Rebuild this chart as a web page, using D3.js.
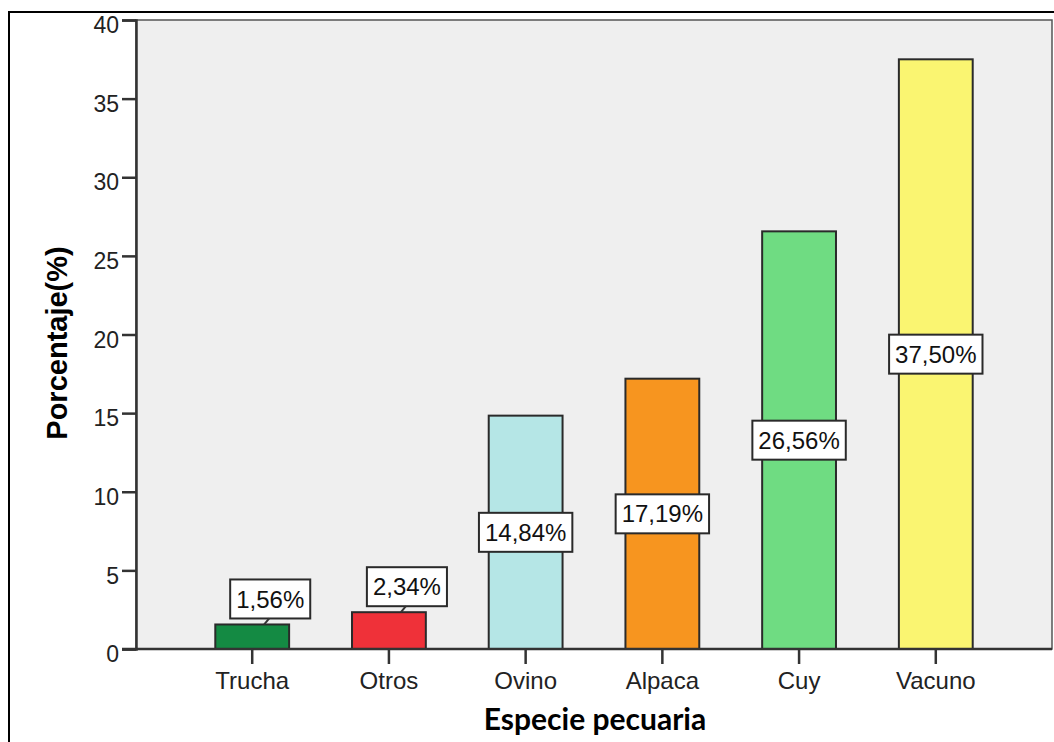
<!DOCTYPE html>
<html>
<head>
<meta charset="utf-8">
<script src="https://cdn.jsdelivr.net/npm/d3@7"></script>
<style>
  html, body { margin: 0; padding: 0; background: #ffffff; }
  svg { display: block; }
</style>
</head>
<body>
<svg id="chart" width="1054" height="742"></svg>
<script>
// Livestock species and their share (%)
const species = ["Trucha", "Otros", "Ovino", "Alpaca", "Cuy", "Vacuno"];
const percentages = [1.56, 2.34, 14.84, 17.19, 26.56, 37.50];
const valueLabels = ["1,56%", "2,34%", "14,84%", "17,19%", "26,56%", "37,50%"];
const barColors = ["#148a43", "#ef3139", "#b5e6e6", "#f7951f", "#6fdc82", "#faf571"];
const yTicks = [0, 5, 10, 15, 20, 25, 30, 35, 40];
const xTitle = "Especie pecuaria";
const yTitle = "Porcentaje(%)";

const svg = d3.select("#chart");
const plot = { left: 136, right: 1052, top: 20, bottom: 649 };

// outer frame
svg.append("rect")
  .attr("x", 9).attr("y", 12)
  .attr("width", 1070).attr("height", 760)
  .attr("fill", "none").attr("stroke", "#000").attr("stroke-width", 2);

// plot background
svg.append("rect")
  .attr("x", plot.left).attr("y", plot.top)
  .attr("width", plot.right - plot.left).attr("height", plot.bottom - plot.top)
  .attr("fill", "#efefef")
  .attr("stroke", "#555").attr("stroke-width", 1.5);

const x = d3.scaleBand()
  .domain(species)
  .range([plot.left, plot.right])
  .paddingInner(0.46)
  .paddingOuter(0.58);

const y = d3.scaleLinear().domain([0, 40]).range([plot.bottom, plot.top]);

const font = "'Liberation Sans', Arial, sans-serif";

// bars
svg.append("g").selectAll("rect")
  .data(species)
  .join("rect")
  .attr("x", d => x(d))
  .attr("y", (d, i) => y(percentages[i]))
  .attr("width", x.bandwidth())
  .attr("height", (d, i) => y(0) - y(percentages[i]))
  .attr("fill", (d, i) => barColors[i])
  .attr("stroke", "#2a2a2a").attr("stroke-width", 2);

// y axis
const yAxis = svg.append("g")
  .attr("transform", `translate(${plot.left},0)`)
  .call(d3.axisLeft(y).tickValues(yTicks).tickSize(14).tickPadding(3).tickFormat(d3.format("d")));
yAxis.select(".domain").attr("stroke", "#333").attr("stroke-width", 2.5);
yAxis.selectAll(".tick line").attr("stroke", "#333").attr("stroke-width", 2.5);
yAxis.selectAll(".tick text")
  .attr("font-family", font).attr("font-size", 23).attr("fill", "#222")
  .attr("dy", "0.55em");

// x axis
const xAxis = svg.append("g")
  .attr("transform", `translate(0,${plot.bottom})`)
  .call(d3.axisBottom(x).tickSize(15).tickSizeOuter(0).tickPadding(8));
xAxis.select(".domain").attr("stroke", "#333").attr("stroke-width", 2.5)
  .attr("d", `M${plot.left - 14},0H${plot.right}`);
xAxis.selectAll(".tick line").attr("stroke", "#333").attr("stroke-width", 2.5);
xAxis.selectAll(".tick text")
  .attr("font-family", font).attr("font-size", 24).attr("fill", "#222");

// value labels
const labelFont = 24;
const boxH = 39, padX = 6, lift = 6, shiftX = 18;
const labels = svg.append("g");
species.forEach((s, i) => {
  const cx = x(s) + x.bandwidth() / 2;
  const top = y(percentages[i]);
  const barH = y(0) - top;
  const g = labels.append("g");
  const t = g.append("text")
    .attr("font-family", font).attr("font-size", labelFont).attr("fill", "#111")
    .attr("text-anchor", "middle")
    .text(valueLabels[i]);
  const w = t.node().getComputedTextLength() + padX * 2;
  let bx, by;
  if (barH > boxH + 10) {
    bx = cx; by = top + barH / 2;
  } else {
    bx = cx + shiftX; by = top - lift - boxH / 2;
    g.append("line")
      .attr("x1", bx - 1).attr("y1", by + boxH / 2)
      .attr("x2", cx + 12).attr("y2", top)
      .attr("stroke", "#333").attr("stroke-width", 2);
  }
  g.insert("rect", "text")
    .attr("x", bx - w / 2).attr("y", by - boxH / 2)
    .attr("width", w).attr("height", boxH)
    .attr("fill", "#fff").attr("stroke", "#2a2a2a").attr("stroke-width", 2);
  t.attr("x", bx).attr("y", by).attr("dy", "0.36em");
});

// axis titles
svg.append("text")
  .attr("x", (plot.left + plot.right) / 2 + 1).attr("y", 730)
  .attr("text-anchor", "middle")
  .attr("font-family", "Lato, 'Open Sans', sans-serif").attr("font-weight", "bold")
  .attr("font-size", 30).attr("fill", "#000")
  .text(xTitle);

svg.append("text")
  .attr("transform", "translate(67,343) rotate(-90)")
  .attr("text-anchor", "middle")
  .attr("font-family", font).attr("font-weight", "bold")
  .attr("font-size", 29).attr("fill", "#000")
  .text(yTitle);
</script>
</body>
</html>
